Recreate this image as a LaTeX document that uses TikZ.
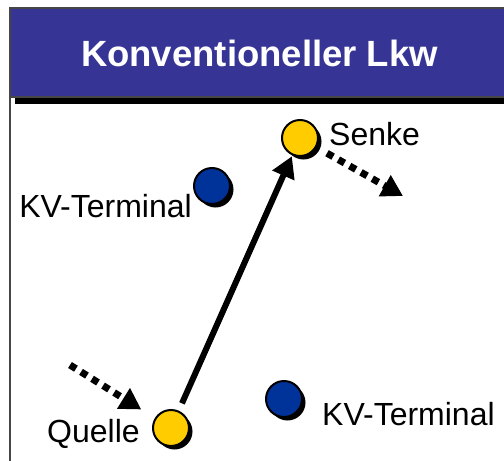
\documentclass[tikz,border=0pt]{standalone}
\usepackage{fontspec}
\setmainfont{Liberation Sans}
\usetikzlibrary{arrows.meta,shadows}
\definecolor{hdr}{RGB}{54,53,150}
\definecolor{gold}{RGB}{255,204,0}
\definecolor{navy}{RGB}{0,51,153}
\definecolor{edge}{RGB}{70,70,70}
\tikzset{
  pt/.style={circle, draw=black, line width=2pt, minimum size=36pt, inner sep=0pt,
    drop shadow={shadow xshift=3.5pt, shadow yshift=-3.5pt, fill=black, opacity=1}},
  src/.style={pt, fill=gold},
  term/.style={pt, fill=navy},
  lbl/.style={inner sep=0pt, font=\fontsize{32}{36}\selectfont},
  flow/.style={line width=6pt, -{Triangle[length=21pt,width=23pt]}},
  dotflow/.style={line width=7pt, dash pattern=on 7pt off 6pt, -{Triangle[length=21pt,width=23pt]}}
}
\begin{document}
\begin{tikzpicture}[x=1pt,y=-1pt]
\useasboundingbox (0,0) rectangle (504,461);
% header
\fill[black] (15,97) rectangle (510,104);
\draw[edge, line width=1.2pt, fill=hdr] (10,8) rectangle (510,97);
\draw[edge, line width=1.5pt] (10,97) -- (10,465);
\node[inner sep=0pt, anchor=base, text=white, font=\fontsize{36.5}{40}\selectfont\bfseries] (title) at (259.5,66) {Konventioneller Lkw};
% points
\node[src] (senke) at (300,138) {};
\node[term] (kv1) at (212,186) {};
\node[src] (quelle) at (171,428) {};
\node[term] (kv2) at (284,399) {};
% labels
\node[lbl, anchor=base west] (lsenke) at (329,145) {Senke};
\node[lbl, anchor=base east] (lkv1) at (192,217) {KV-Terminal};
\node[lbl, anchor=base west] (lquelle) at (47,442) {Quelle};
\node[lbl, anchor=base west] (lkv2) at (322,425) {KV-Terminal};
% connectors
\coordinate (sout) at (403,196);
\coordinate (qin) at (70,365);
\draw[flow, shorten <=8pt, shorten >=1pt] (quelle) -- (senke);
\draw[dotflow, shorten <=12pt] (senke) -- (sout);
\draw[dotflow, shorten >=16pt] (qin) -- (quelle);
\end{tikzpicture}
\end{document}
